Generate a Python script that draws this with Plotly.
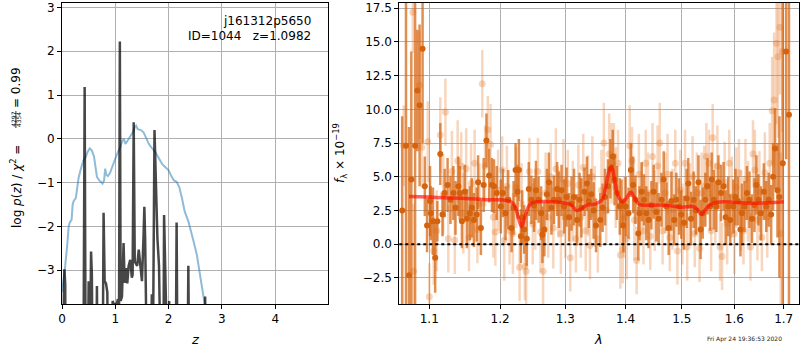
import plotly.graph_objects as go

# ---------------- left panel data ----------------
z_pz = [0.00, 0.03, 0.06, 0.10, 0.125, 0.15, 0.18, 0.20, 0.22, 0.26, 0.29, 0.31, 0.35, 0.40, 0.45,
        0.48, 0.52, 0.56, 0.60, 0.62, 0.655, 0.70, 0.76, 0.79, 0.81, 0.83, 0.86, 0.90, 0.95, 1.00,
        1.05, 1.09, 1.13, 1.16, 1.19, 1.23, 1.28, 1.33, 1.37, 1.39, 1.42, 1.48, 1.53, 1.58, 1.63,
        1.68, 1.75, 1.82, 1.88, 1.94, 2.00, 2.05, 2.10, 2.15, 2.20, 2.25, 2.30, 2.375, 2.42, 2.47,
        2.53, 2.575, 2.625, 2.68, 2.72]
logp_pz = [-3.5, -3.25, -2.9, -2.4, -2.0, -1.9, -1.85, -1.5, -1.42, -1.35, -1.05, -0.9, -0.7, -0.5, -0.4,
           -0.3, -0.22, -0.27, -0.4, -0.55, -0.87, -0.95, -1.02, -0.95, -0.68, -0.82, -0.85, -0.78, -0.6, -0.45,
           -0.3, -0.2, -0.05, 0.0, -0.12, -0.05, 0.05, 0.15, 0.28, 0.3, 0.22, 0.2, 0.15, 0.0, -0.12,
           -0.2, -0.3, -0.45, -0.58, -0.65, -0.72, -0.85, -0.95, -0.98, -1.1, -1.35, -1.65, -1.9, -2.15, -2.35,
           -2.65, -3.0, -3.44, -3.8, -4.5]

z_chi = [0.00, 0.03, 0.045, 0.06, 0.07, 0.40, 0.425, 0.445, 0.48, 0.50, 0.52, 0.545, 0.56, 0.58, 0.64,
         0.655, 0.67, 0.76, 0.78, 0.80, 0.825, 0.85, 0.87, 0.93, 0.95, 0.98, 1.03, 1.05, 1.07, 1.085,
         1.10, 1.125, 1.155, 1.175, 1.20, 1.225, 1.25, 1.28, 1.31, 1.325, 1.345, 1.365, 1.41, 1.44, 1.47,
         1.50, 1.53, 1.545, 1.56, 1.60, 1.66, 1.685, 1.70, 1.735, 1.79, 1.82, 1.86, 1.90, 1.915, 1.94,
         1.99, 2.01, 2.03, 2.13, 2.15, 2.17, 2.35, 2.37, 2.39, 2.67, 2.685, 2.70, 4.99]
logp_chi = [-6, -3.5, -2.98, -3.3, -6, -6, 1.18, -6, -6, -3.25, -6, -2.57, -3.1, -6, -6,
            -3.36, -6, -6, -1.69, -3.25, -3.3, -3.5, -6, -6, -3.7, -3.8, -3.75, -3.66, -3.9, 2.22,
            -3.7, -3.6, -2.38, -3.29, -2.95, -3.3, -2.9, -2.76, -3.17, -3.1, 0.38, -2.8, -2.9, -2.53, -2.9,
            -3.25, -2.2, -1.55, -2.3, -6, -6, -3.55, -6, 0.2, -2.27, -2.9, -6, -6, -1.74, -6,
            -6, -3.7, -6, -6, -1.91, -6, -6, -2.9, -6, -6, -3.6, -6, -6]

# ---------------- right panel data ----------------
lam_dark = [1.064, 1.069, 1.073, 1.076, 1.081, 1.084, 1.087, 1.091,
            1.094, 1.097, 1.101, 1.102, 1.105, 1.108, 1.111, 1.115, 1.118, 1.121, 1.125, 1.129, 1.133, 1.136,
            1.140, 1.142, 1.145, 1.149, 1.152, 1.156, 1.159, 1.162, 1.166, 1.168, 1.172, 1.176, 1.180, 1.184,
            1.188, 1.191, 1.195,
            1.201, 1.204, 1.208, 1.212, 1.217, 1.220, 1.223, 1.226, 1.228, 1.231, 1.233, 1.236, 1.240, 1.243,
            1.247, 1.251, 1.254, 1.258, 1.262, 1.264, 1.267, 1.271, 1.274, 1.278, 1.282, 1.287, 1.290, 1.294,
            1.298, 1.302, 1.306, 1.310, 1.314, 1.319, 1.323, 1.326, 1.331, 1.335, 1.338, 1.342, 1.346, 1.350,
            1.357, 1.361, 1.365, 1.370, 1.374, 1.378, 1.381, 1.385, 1.390, 1.393, 1.396, 1.400, 1.405, 1.409,
            1.413, 1.417, 1.422, 1.424, 1.428, 1.432, 1.436, 1.440, 1.445, 1.449, 1.454, 1.458, 1.463, 1.467,
            1.472, 1.476, 1.481, 1.486, 1.490, 1.495, 1.499, 1.504, 1.509, 1.512, 1.517, 1.522, 1.526, 1.531,
            1.535, 1.539, 1.544, 1.548, 1.553, 1.556, 1.560, 1.565, 1.569, 1.574, 1.579, 1.583, 1.588, 1.592,
            1.598, 1.602, 1.607, 1.612, 1.615, 1.620, 1.625, 1.630, 1.635, 1.640, 1.644, 1.648, 1.653, 1.659,
            1.664, 1.669, 1.674, 1.678, 1.682, 1.687, 1.691, 1.698, 1.705, 1.711]
flux_dark = [2.5, 7.3, -2.3, 4.8, 7.3, 11.4, 10.3, 14.5,
             4.3, 1.4, 3.2, 2.3, 1.7, -1.0, 1.7, 6.7, 2.2, 3.8, 4.4, 3.3, 3.8, 2.7,
             4.3, 3.8, 1.7, 3.9, 1.9, 2.3, 2.7, 1.8, 2.2, 4.6, 1.2, 4.4, 7.7, 5.1,
             4.4, 4.3, 3.8,
             2.8, 3.8, 2.3, 3.3, 1.2, 2.7, 5.5, 3.9, 5.5, 0.6, 2.0, 1.1, 0.4, 4.1,
             3.3, 2.9, 4.0, 3.3, 2.3, 0.7, 1.1, 3.7, 4.6, 2.7, 3.3, 4.1, 3.3, 4.0,
             2.8, 3.5, 2.0, 3.0, 3.5, 1.8, 3.3, 2.7, 3.9, 4.5, 3.2, 3.7, 2.5, 1.4,
             1.8, 2.7, 3.5, 4.3, 5.6, 6.5, 4.8, 3.8, 2.8, 3.0, 1.4, 2.8, 2.3, 5.5,
             4.4, 3.3, 0.8, 2.3, 3.9, 3.3, 2.3, 1.8, 2.9, 3.9, 2.4, 1.9, 3.3, 4.8,
             2.8, 1.2, 3.2, 1.8, 3.3, 2.8, 2.2, 1.6, 3.4, 4.5, 1.9, 3.3, 2.5, 4.6,
             1.1, 2.3, 3.3, 4.3, 2.8, 4.8, 3.3, 2.8, 4.6, 3.8, 4.3, 2.0, 2.8, 1.8,
             2.8, 3.5, 3.2, 1.1, 2.3, 2.8, 3.8, 3.3, 1.9, 2.9, 4.4, 3.3, 2.3, 3.9,
             2.8, 3.3, 2.2, 5.0, 7.1, 4.0, 3.5, 6.0, 14.3, 9.6]
err_dark = [7.0, 12.0, 11.0, 9.5, 12.0, 4.5, 6.0, 7.0,
            2.2, 2.0, 2.6, 2.0, 2.5, 2.6, 1.5, 2.3, 1.6, 1.8, 2.0, 1.8, 2.0, 2.0,
            2.2, 2.0, 2.0, 2.0, 2.2, 2.0, 2.2, 2.0, 2.0, 2.0, 2.0, 2.0, 2.0, 2.0,
            2.0, 2.0, 2.0,
            2.0, 1.8, 2.0, 2.2, 1.8, 2.0, 2.0, 2.0, 2.3, 2.0, 2.0, 1.8, 2.0, 2.0,
            1.8, 2.0, 2.2, 1.7, 2.0, 2.1, 2.0, 1.9, 2.2, 2.0, 1.8, 2.0, 2.1, 1.9,
            2.0, 2.2, 1.8, 2.0, 2.1, 1.9, 2.0, 2.2, 1.8, 2.0, 2.0, 1.9, 2.1, 2.0,
            2.0, 1.8, 2.1, 2.0, 2.2, 2.0, 1.9, 2.0, 2.1, 1.8, 2.0, 2.2, 1.9, 2.0,
            2.1, 1.8, 2.0, 2.0, 2.2, 1.9, 2.0, 2.1, 1.8, 2.0, 2.2, 1.9, 2.0, 2.1,
            1.8, 2.0, 2.2, 1.9, 2.0, 2.1, 1.8, 2.0, 2.2, 1.9, 2.0, 2.1, 1.8, 2.0,
            2.2, 1.9, 2.0, 2.1, 1.8, 2.0, 2.2, 1.9, 2.0, 2.1, 1.8, 2.0, 2.2, 1.9,
            2.0, 2.1, 1.8, 2.0, 2.2, 1.9, 2.0, 2.1, 1.8, 2.0, 2.2, 1.9, 2.0, 2.1,
            1.9, 2.0, 2.2, 2.5, 3.0, 3.5, 6.0, 14.0, 8.0, 15.0]

lam_light = [1.066, 1.079, 1.078, 1.087, 1.090, 1.098, 1.100, 1.106, 1.110, 1.115, 1.119, 1.122, 1.126,
             1.131, 1.135, 1.139, 1.144, 1.147, 1.151, 1.155, 1.158, 1.163, 1.167, 1.170, 1.174, 1.178,
             1.182, 1.186, 1.190, 1.193, 1.197,
             1.203, 1.206, 1.210, 1.214, 1.219, 1.224, 1.229, 1.232, 1.237, 1.239, 1.244, 1.249, 1.253,
             1.257, 1.261, 1.265, 1.269, 1.273, 1.277, 1.281, 1.285, 1.289, 1.293, 1.297, 1.300, 1.304,
             1.308, 1.312, 1.317, 1.321, 1.325, 1.329, 1.333, 1.337, 1.340, 1.344, 1.348,
             1.353, 1.359, 1.363, 1.367, 1.372, 1.376, 1.380, 1.383, 1.387, 1.391, 1.395, 1.398, 1.402,
             1.407, 1.411, 1.415, 1.419, 1.423, 1.427, 1.431, 1.435, 1.439, 1.443, 1.447, 1.451, 1.456,
             1.460, 1.465, 1.470, 1.474, 1.478, 1.483, 1.488, 1.492, 1.497, 1.501, 1.506, 1.510, 1.515,
             1.520, 1.524, 1.528,
             1.533, 1.537, 1.542, 1.546, 1.551, 1.555, 1.558, 1.563, 1.567, 1.572, 1.576, 1.581, 1.586,
             1.590, 1.595, 1.600, 1.604, 1.609, 1.613, 1.618, 1.622, 1.627, 1.632, 1.637, 1.641, 1.646,
             1.650, 1.655, 1.661, 1.666, 1.671, 1.676, 1.680, 1.685, 1.688, 1.692, 1.694, 1.697]
flux_light = [7.3, -2.0, 17.2, 11.8, 7.2, 7.6, -3.9, -0.5, 1.0, 8.1, 3.7, 9.8, 0.4,
              5.4, 0.3, 6.2, 5.8, 2.3, 5.6, 0.5, 4.5, 6.0, 1.1, 3.0, 11.9, 5.8,
              8.5, 7.4, 2.0, 0.9, 4.0,
              5.5, 0.3, 4.3, 1.0, 0.8, 4.2, -1.7, 3.0, -1.65, -2.0, 5.4, 1.5, 2.6,
              5.4, 0.9, -2.0, 3.8, 2.0, 5.0, 1.2, 5.6, 3.0, 0.8, 4.8, 2.0, 4.5,
              -1.0, 3.2, 0.4, 4.4, 2.0, 5.7, 1.0, 3.6, -0.1, 5.0, 2.8,
              0.4, 4.0, 7.5, 2.5, 6.7, 6.0, 6.5, 4.2, 6.0, -0.8, -0.4, 2.0, 0.4,
              7.3, 6.2, 1.8, -1.2, 5.2, 3.0, 1.0, 6.0, 3.8, 0.6, 6.5, 2.5, 5.8,
              7.5, 1.0, 3.8, 5.2, 0.5, 2.6, 6.0, -0.5, 4.0, 1.5, 6.0, -0.2, 3.0,
              5.0, 0.8, 3.8,
              -0.3, 3.8, 4.3, 6.5, 6.0, 1.0, 7.9, 3.0, 5.8, -0.2, -0.9, 4.6, 1.5,
              6.0, 3.5, 0.8, 4.2, 5.3, 2.5, 1.0, 4.8, 3.2, -0.2, 6.7, 5.5, 1.8,
              3.9, 0.5, 5.3, 2.0, 6.0, 9.9, 10.7, 14.9, 13.9, 16.1, 0.8, 14.3]
err_light = [3.0, 5.0, 3.0, 4.0, 3.0, 3.0, 2.5, 2.5, 3.0, 2.8, 3.0, 2.5, 2.5,
             3.0, 2.5, 3.0, 2.5, 3.0, 3.0, 2.5, 3.0, 2.5, 2.5, 3.0, 2.5, 3.0,
             2.5, 3.0, 3.0, 2.5, 3.0,
             2.5, 3.0, 3.0, 2.5, 3.0, 3.0, 2.5, 3.0, 2.5, 2.5, 2.5, 3.0, 3.0,
             2.5, 3.0, 2.5, 3.0, 3.0, 2.5, 3.0, 3.0, 2.5, 3.0, 3.0, 3.0, 2.5,
             2.5, 3.0, 2.5, 3.0, 3.0, 2.5, 3.0, 3.0, 2.5, 3.0, 3.0,
             2.5, 3.0, 3.0, 2.5, 3.0, 3.0, 2.5, 3.0, 2.5, 2.5, 2.5, 3.0, 3.0,
             3.0, 2.5, 3.0, 2.5, 3.0, 3.0, 2.5, 2.5, 3.0, 2.5, 2.5, 3.0, 3.0,
             3.0, 2.5, 3.0, 3.0, 2.5, 3.0, 2.5, 2.5, 3.0, 3.0, 2.5, 2.5, 3.0,
             3.0, 2.5, 3.0,
             2.5, 3.0, 3.0, 2.5, 2.5, 3.0, 2.5, 3.0, 3.0, 2.5, 2.5, 3.0, 3.0,
             2.5, 3.0, 3.0, 3.0, 2.5, 3.0, 2.5, 3.0, 3.0, 2.5, 2.5, 3.0, 3.0,
             3.0, 2.5, 3.0, 3.0, 3.0, 4.0, 5.0, 6.0, 6.0, 5.0, 6.0, 6.0]

lam_model = [1.073, 1.10, 1.12, 1.15, 1.18, 1.21, 1.22, 1.226, 1.232, 1.238, 1.244, 1.25, 1.28, 1.30,
             1.31, 1.318, 1.325, 1.335, 1.35, 1.36, 1.366, 1.371, 1.376, 1.381, 1.387, 1.395, 1.401, 1.409,
             1.415, 1.422, 1.43, 1.47, 1.50, 1.52, 1.529, 1.536, 1.543, 1.552, 1.565, 1.58, 1.60, 1.64,
             1.68, 1.70]
flux_model = [3.55, 3.5, 3.45, 3.4, 3.3, 3.25, 3.0, 2.2, 1.3, 2.2, 2.9, 3.1, 3.15, 3.05,
              2.9, 2.5, 2.6, 2.9, 3.0, 3.3, 4.2, 5.3, 5.8, 4.8, 3.6, 3.15, 3.4, 3.85,
              3.5, 3.0, 2.9, 2.9, 2.75, 2.8, 2.6, 2.2, 2.5, 2.9, 3.1, 3.15, 3.1, 3.05,
              3.1, 3.15]

obj_name = "j161312p5650"
obj_info = "ID=1044   z=1.0982"
timestamp = "Fri Apr 24 19:36:53 2020"

# ---------------- figure ----------------
W, H = 800, 350
ML, MR, MT, MB = 62, 1, 3, 46
PW, PH = W - ML - MR, H - MT - MB


def px(xp):
    return (xp - ML) / PW


def py(yp):
    return (H - MB - yp) / PH


FONT = "DejaVu Sans"
fig = go.Figure()

fig.add_trace(go.Scatter(x=z_pz, y=logp_pz, mode="lines", xaxis="x", yaxis="y",
                         line=dict(color="rgba(31,119,180,0.5)", width=2), showlegend=False))
fig.add_trace(go.Scatter(x=z_chi, y=logp_chi, mode="lines", xaxis="x", yaxis="y",
                         line=dict(color="rgba(0,0,0,0.72)", width=2.5), showlegend=False))

LIGHT = "rgba(228,118,38,0.3)"
fig.add_trace(go.Scatter(x=lam_light, y=flux_light, mode="markers", xaxis="x2", yaxis="y2",
                         marker=dict(color=LIGHT, size=7, line=dict(width=0)),
                         error_y=dict(type="data", array=err_light, color=LIGHT, thickness=2.5, width=0),
                         showlegend=False))
fig.add_trace(go.Scatter(x=lam_dark, y=flux_dark, mode="markers", xaxis="x2", yaxis="y2",
                         marker=dict(color="#d5620c", size=6, line=dict(width=0)),
                         error_y=dict(type="data", array=err_dark, color="rgba(214,100,14,0.72)",
                                      thickness=2.5, width=0),
                         showlegend=False))
fig.add_trace(go.Scatter(x=lam_model, y=flux_model, mode="lines", xaxis="x2", yaxis="y2",
                         line=dict(color="rgba(255,10,0,0.65)", width=3.5, shape="spline"),
                         showlegend=False))

axis_common = dict(showline=True, mirror=True, linecolor="black", linewidth=1,
                   ticks="outside", ticklen=4, tickcolor="black", tickwidth=1,
                   showgrid=True, gridcolor="#b0b0b0", gridwidth=1, zeroline=False,
                   tickfont=dict(family=FONT, size=12, color="black"))

fig.update_layout(
    width=W, height=H,
    margin=dict(l=ML, r=MR, t=MT, b=MB, autoexpand=False),
    paper_bgcolor="white", plot_bgcolor="white",
    font=dict(family=FONT, size=12, color="black"),
    xaxis=dict(domain=[0, px(328)], range=[0, 4.99], tickvals=[0, 1, 2, 3, 4], anchor="y", **axis_common),
    yaxis=dict(domain=[0, 1], range=[-3.77, 3.1], tickvals=[-3, -2, -1, 0, 1, 2, 3], anchor="x", **axis_common),
    xaxis2=dict(domain=[px(399.3), 1], type="log", range=[0.0254, 0.2386],
                tickvals=[1.1, 1.2, 1.3, 1.4, 1.5, 1.6, 1.7],
                ticktext=["1.1", "1.2", "1.3", "1.4", "1.5", "1.6", "1.7"], anchor="y2", **axis_common),
    yaxis2=dict(domain=[0, 1], range=[-4.43, 17.89],
                tickvals=[-2.5, 0, 2.5, 5, 7.5, 10, 12.5, 15, 17.5], tickformat=".1f",
                anchor="x2", **axis_common),
)

fig.add_shape(type="line", xref="x2 domain", yref="y2", x0=0, x1=1, y0=0, y1=0,
              line=dict(color="black", width=2, dash="dot"), layer="above")

ann = []
ann.append(dict(text=obj_name, x=px(313), y=py(21), xanchor="right", yanchor="middle",
                font=dict(size=12)))
ann.append(dict(text=obj_info.replace("   ", "\u00a0\u00a0\u00a0"), x=px(313), y=py(36),
                xanchor="right", yanchor="middle", font=dict(size=12)))
# left y label
ann.append(dict(text="log\u00a0<i>p</i>(<i>z</i>)\u00a0/\u00a0<i>χ</i><sup>2</sup>\u00a0=",
                x=px(16), y=py(187), xanchor="center", yanchor="middle", textangle=-90,
                font=dict(size=12)))
ann.append(dict(text="4297", x=px(13.3), y=py(119.5), xanchor="center", yanchor="middle",
                textangle=-90, font=dict(size=6)))
ann.append(dict(text="4354", x=px(18.6), y=py(119.5), xanchor="center", yanchor="middle",
                textangle=-90, font=dict(size=6)))
ann.append(dict(text="=\u00a00.99", x=px(16), y=py(88), xanchor="center", yanchor="middle",
                textangle=-90, font=dict(size=12)))
# right y label
ann.append(dict(text="<i>f</i><sub>λ</sub>\u00a0×\u00a010<sup>−19</sup>", x=px(340), y=py(153),
                xanchor="center", yanchor="middle", textangle=-90, font=dict(size=12)))
# x labels
ann.append(dict(text="<i>z</i>", x=px(195), y=py(339), xanchor="center", yanchor="middle",
                font=dict(size=13)))
ann.append(dict(text="<i>λ</i>", x=px(598), y=py(340), xanchor="center", yanchor="middle",
                font=dict(size=13)))
ann.append(dict(text=timestamp, x=px(744), y=py(339), xanchor="center", yanchor="middle",
                font=dict(size=6, color="#222")))
for a in ann:
    a.update(xref="paper", yref="paper", showarrow=False)
fig.update_layout(annotations=ann)

fig.add_shape(type="line", xref="paper", yref="paper", x0=px(15.9), x1=px(15.9),
              y0=py(111), y1=py(128), line=dict(color="black", width=0.8))

fig.write_html("out.html", config={"displayModeBar": False},
               post_script="document.body.style.margin='0';document.body.style.overflow='hidden';")
